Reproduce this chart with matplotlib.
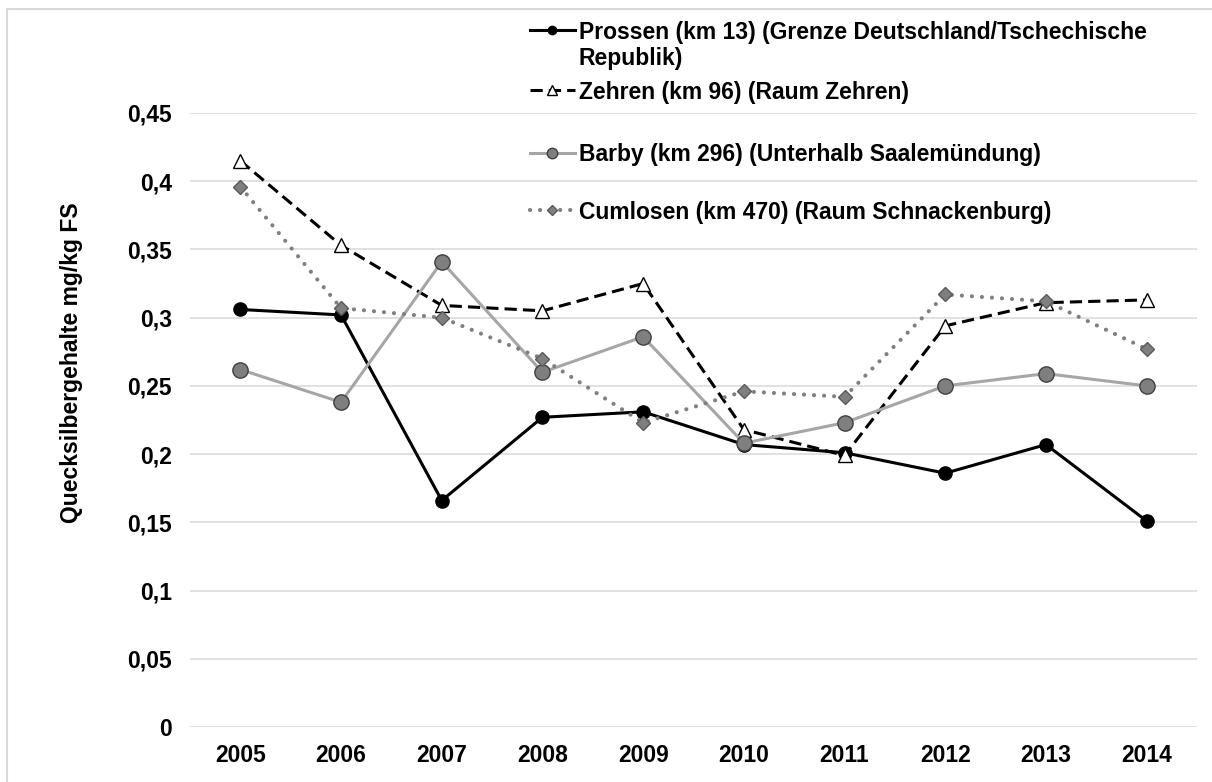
import numpy as np
import matplotlib.pyplot as plt
from matplotlib.lines import Line2D
from matplotlib.patches import Rectangle

plt.rcParams['font.family'] = ['Liberation Sans', 'DejaVu Sans']
plt.rcParams['font.weight'] = 'bold'

# Quecksilbergehalte (mg/kg FS) je Messstelle
years = ['2005', '2006', '2007', '2008', '2009', '2010', '2011', '2012', '2013', '2014']
prossen = [0.306, 0.302, 0.166, 0.227, 0.231, 0.207, 0.201, 0.186, 0.207, 0.151]
zehren = [0.415, 0.353, 0.309, 0.305, 0.325, 0.218, 0.199, 0.294, 0.311, 0.313]
barby = [0.262, 0.238, 0.341, 0.260, 0.286, 0.208, 0.223, 0.250, 0.259, 0.250]
cumlosen = [0.396, 0.307, 0.300, 0.270, 0.223, 0.246, 0.242, 0.317, 0.312, 0.277]

yticks = [0, 0.05, 0.1, 0.15, 0.2, 0.25, 0.3, 0.35, 0.4, 0.45]
ytick_labels = ['0', '0,05', '0,1', '0,15', '0,2', '0,25', '0,3', '0,35', '0,4', '0,45']

labels = ['Prossen (km 13) (Grenze Deutschland/Tschechische',
          'Zehren (km 96) (Raum Zehren)',
          'Barby (km 296) (Unterhalb Saalemündung)',
          'Cumlosen (km 470) (Raum Schnackenburg)']

FS = 16.5

W, H = 1212, 782
fig = plt.figure(figsize=(W / 100, H / 100), dpi=100)
ax = fig.add_axes([190 / W, 1 - 727 / H, (1197 - 190) / W, (727 - 113) / H])

x = np.arange(len(years))

styles = [
    dict(color='black', lw=2.2, ls='-', marker='o', ms=9.5, mfc='black', mec='black', mew=1),
    dict(color='black', lw=2.2, ls=(0, (4, 2)), marker='^', ms=10.5, mfc='white', mec='black', mew=1),
    dict(color='#a6a6a6', lw=2.2, ls='-', marker='o', ms=11, mfc='#7f7f7f', mec='#404040', mew=1),
    dict(color='#808080', lw=3.0, ls=(0, (0.01, 2.4)), dash_capstyle='round',
         marker='D', ms=7.5, mfc='#7f7f7f', mec='#5a5a5a', mew=1),
]
series = [prossen, zehren, barby, cumlosen]

for i, (vals, st) in enumerate(zip(series, styles)):
    ax.plot(x, vals, zorder=3 + i, **st)

ax.set_xlim(-0.5, len(years) - 0.5)
ax.set_ylim(0, 0.45)
ax.set_xticks(x)
ax.set_xticklabels(years)
ax.set_yticks(yticks)
ax.set_yticklabels(ytick_labels)
ax.tick_params(axis='both', length=0, labelsize=FS)
ax.tick_params(axis='y', pad=13)
ax.tick_params(axis='x', pad=12)
for s in ax.spines.values():
    s.set_visible(False)
ax.grid(axis='y', color='#d9d9d9', lw=1.1)
ax.set_axisbelow(True)

fig.text(72 / W, 1 - 363 / H, 'Quecksilbergehalte mg/kg FS', rotation=90,
         ha='center', va='center', fontsize=FS, fontweight='bold')

# legend entries, each placed on its own row
leg_sizes = [6, 7, 7.5, 5.5]
leg_y = [32, 92, 155, 212]
for st, lab, ms, yy in zip(styles, labels, leg_sizes, leg_y):
    st2 = dict(st)
    st2['ms'] = ms
    h = Line2D([], [], **st2)
    fig.legend([h], [lab], loc='center left', bbox_to_anchor=(530 / W, 1 - yy / H),
               frameon=False, fontsize=FS, handlelength=1.95, handletextpad=0.2,
               borderpad=0, borderaxespad=0)
fig.text(578 / W, 1 - 58 / H, 'Republik)', ha='left', va='center', fontsize=FS, fontweight='bold')

# light frame round the chart
fig.patches.append(Rectangle((7 / W, -0.1), 1.2, 1 - 9 / H + 0.1, transform=fig.transFigure,
                             fill=False, ec='#d9d9d9', lw=1.5))

fig.savefig('out.png', dpi=100)
